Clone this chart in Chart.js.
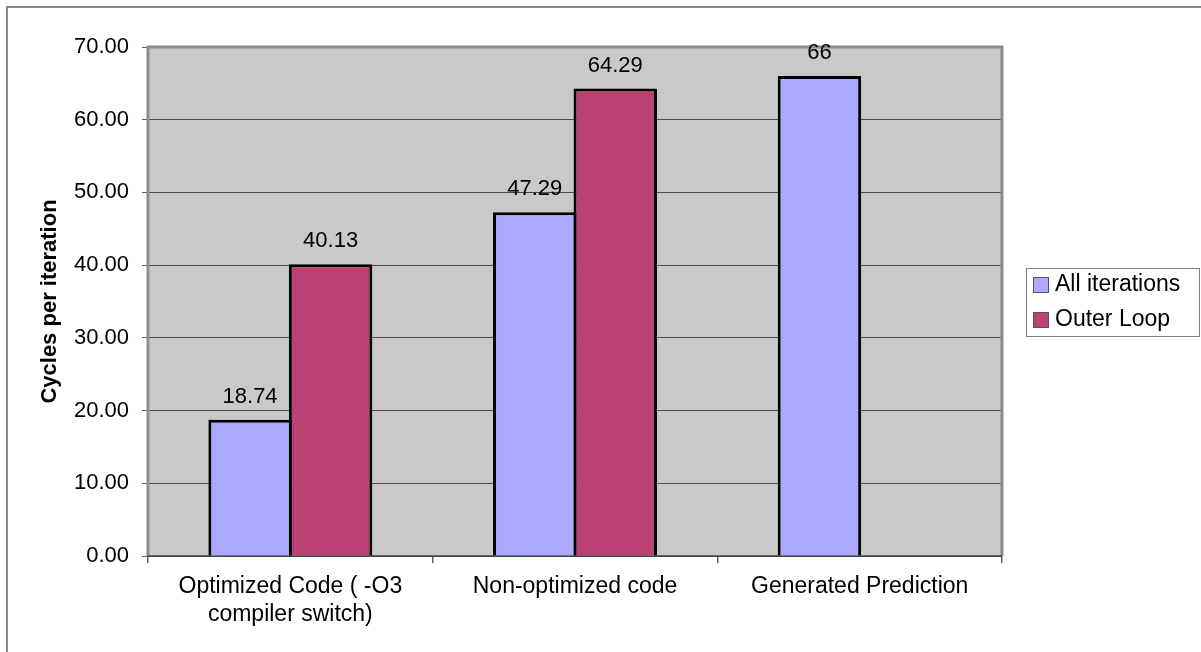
<!DOCTYPE html>
<html>
<head>
<meta charset="utf-8">
<script src="https://cdn.jsdelivr.net/npm/chart.js@4/dist/chart.umd.min.js"></script>
<style>
  html, body { margin: 0; padding: 0; background: #ffffff; }
  #wrap { width: 1201px; height: 652px; }
</style>
</head>
<body>
<div id="wrap"><canvas id="c" width="1201" height="652"></canvas></div>
<script>
// Cycles per iteration for each code variant
const categories = [
  ['Optimized Code ( -O3', 'compiler switch)'],
  'Non-optimized code',
  'Generated Prediction'
];
const allIterations = [18.74, 47.29, 66];
const outerLoop = [40.13, 64.29, null];
const seriesNames = ['All iterations', 'Outer Loop'];
const seriesColors = ['#aaa8ff', '#bb4074'];
const yTicks = [0, 10, 20, 30, 40, 50, 60, 70];

const FONT = "'Liberation Sans', Arial, sans-serif";

// Gray plot background and frame, page border, value labels and boxed legend
const decor = {
  id: 'decor',
  beforeDraw(chart) {
    const { ctx, chartArea: a } = chart;
    ctx.save();
    ctx.fillStyle = '#ffffff';
    ctx.fillRect(0, 0, chart.width, chart.height);
    ctx.strokeStyle = '#8a8a8a';
    ctx.lineWidth = 2;
    ctx.beginPath();
    ctx.moveTo(7, chart.height);
    ctx.lineTo(7, 7);
    ctx.lineTo(chart.width, 7);
    ctx.stroke();
    ctx.fillStyle = '#c9c9c9';
    ctx.fillRect(a.left, a.top, a.right - a.left, a.bottom - a.top);
    ctx.restore();
  },
  beforeDatasetsDraw(chart) {
    const { ctx, chartArea: a } = chart;
    ctx.save();
    ctx.strokeStyle = '#8c8c8c';
    ctx.lineWidth = 3;
    ctx.beginPath();
    ctx.moveTo(a.left, a.bottom);
    ctx.lineTo(a.left, a.top);
    ctx.lineTo(a.right, a.top);
    ctx.lineTo(a.right, a.bottom);
    ctx.stroke();
    ctx.strokeStyle = '#404040';
    ctx.lineWidth = 1.5;
    ctx.beginPath();
    ctx.moveTo(a.left, a.bottom);
    ctx.lineTo(a.right, a.bottom);
    ctx.stroke();
    ctx.restore();
  },
  afterDatasetsDraw(chart) {
    const { ctx } = chart;
    ctx.save();
    ctx.font = '22px ' + FONT;
    ctx.fillStyle = '#000000';
    ctx.textAlign = 'center';
    ctx.textBaseline = 'middle';
    chart.data.datasets.forEach((ds, i) => {
      const meta = chart.getDatasetMeta(i);
      meta.data.forEach((bar, j) => {
        const v = ds.data[j];
        if (v === null || v === undefined) return;
        ctx.fillText(String(v), bar.x, bar.y - 23);
      });
    });
    ctx.restore();
  },
  afterDraw(chart) {
    const { ctx } = chart;
    ctx.save();
    ctx.strokeStyle = '#808080';
    ctx.lineWidth = 1;
    ctx.strokeRect(1026.5, 268.5, 173, 68);
    ctx.font = '23px ' + FONT;
    ctx.textBaseline = 'middle';
    ctx.textAlign = 'left';
    chart.data.datasets.forEach((ds, i) => {
      const cy = 285 + i * 35;
      ctx.fillStyle = ds.backgroundColor;
      ctx.fillRect(1033, cy - 8, 16, 16);
      ctx.strokeStyle = '#555555';
      ctx.strokeRect(1033.5, cy - 7.5, 15, 15);
      ctx.fillStyle = '#000000';
      ctx.fillText(ds.label, 1055, cy);
    });
    ctx.restore();
  }
};

new Chart(document.getElementById('c'), {
  type: 'bar',
  data: {
    labels: categories,
    datasets: [
      {
        label: seriesNames[0],
        data: allIterations,
        backgroundColor: seriesColors[0],
        borderColor: '#000000',
        borderWidth: 3
      },
      {
        label: seriesNames[1],
        data: outerLoop,
        backgroundColor: seriesColors[1],
        borderColor: '#000000',
        borderWidth: 3
      }
    ]
  },
  options: {
    responsive: false,
    animation: false,
    devicePixelRatio: 1,
    categoryPercentage: 0.5656,
    barPercentage: 1.0366,
    layout: { padding: { left: 0, right: 199, top: 47, bottom: 0 } },
    plugins: {
      legend: { display: false },
      tooltip: { enabled: false }
    },
    scales: {
      x: {
        offset: true,
        afterFit(scale) { scale.height = 96; },
        grid: {
          offset: true,
          drawOnChartArea: false,
          drawTicks: true,
          tickLength: 7,
          tickColor: '#606060',
          lineWidth: 1.5
        },
        border: { display: false },
        ticks: {
          color: '#000000',
          padding: 10,
          maxRotation: 0,
          autoSkip: false,
          font: { family: FONT, size: 23, lineHeight: 1.2 }
        }
      },
      y: {
        min: 0,
        max: 70,
        afterFit(scale) { scale.width = 148; },
        afterBuildTicks(scale) { scale.ticks = yTicks.map(v => ({ value: v })); },
        grid: {
          color: '#4a4a4a',
          lineWidth: 1,
          drawTicks: true,
          tickLength: 6,
          tickColor: '#606060'
        },
        border: { display: false },
        ticks: {
          color: '#000000',
          padding: 13,
          font: { family: FONT, size: 22 },
          callback: v => Number(v).toFixed(2)
        },
        title: {
          display: true,
          text: 'Cycles per iteration',
          color: '#000000',
          padding: { top: 37, bottom: 0 },
          font: { family: FONT, size: 22, weight: 'bold' }
        }
      }
    }
  },
  plugins: [decor]
});
</script>
</body>
</html>
